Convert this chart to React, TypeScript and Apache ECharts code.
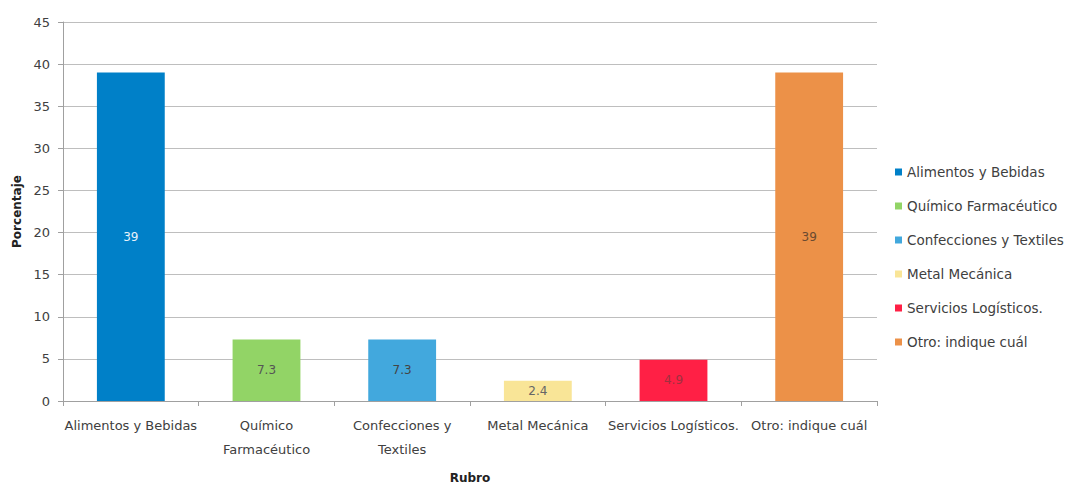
import React, { useEffect, useRef } from "react";
import * as echarts from "echarts";

const categories = [
  "Alimentos y Bebidas",
  "Químico Farmacéutico",
  "Confecciones y Textiles",
  "Metal Mecánica",
  "Servicios Logísticos.",
  "Otro: indique cuál",
];
const axisLabels = [
  "Alimentos y Bebidas",
  "Químico\nFarmacéutico",
  "Confecciones y\nTextiles",
  "Metal Mecánica",
  "Servicios Logísticos.",
  "Otro: indique cuál",
];
const values = [39, 7.3, 7.3, 2.4, 4.9, 39];
const colors = ["#0080C8", "#92D466", "#42A8DD", "#F9E597", "#FF2045", "#EC9148"];
const labelColors = ["#E8F2FA", "#555555", "#444444", "#666666", "#A03040", "#6A4A30"];

const FONT = "'DejaVu Sans', 'Open Sans', sans-serif";

export default function App() {
  const ref = useRef<HTMLDivElement>(null);
  useEffect(() => {
    if (!ref.current) return;
    const chart = echarts.init(ref.current, undefined, { renderer: "svg" });
    const series = categories.map((name, i) => ({
      name,
      type: "bar",
      stack: "total",
      barWidth: "50%",
      data: values.map((v, j) => (j === i ? v : null)),
      itemStyle: { color: colors[i] },
      label: {
        show: true,
        position: "inside",
        color: labelColors[i],
        fontSize: 12,
        fontFamily: FONT,
      },
    }));
    chart.setOption({
      animation: false,
      grid: { left: 63, top: 22, right: 192, bottom: 83, outerBoundsMode: "none", containLabel: false },
      legend: {
        orient: "vertical",
        left: 890,
        top: 160,
        itemWidth: 7,
        itemHeight: 7,
        itemGap: 20,
        icon: "rect",
        data: categories,
        textStyle: { fontSize: 13.5, color: "#404040", fontFamily: FONT },
      },
      xAxis: {
        type: "category",
        data: axisLabels,
        name: "Rubro",
        nameLocation: "middle",
        nameGap: 71,
        nameTextStyle: { fontWeight: "bold", fontSize: 12, color: "#222", fontFamily: FONT },
        axisLine: { lineStyle: { color: "#A0A0A0" } },
        axisTick: { show: true, alignWithLabel: false, length: 5, lineStyle: { color: "#A0A0A0" } },
        axisLabel: { color: "#404040", fontSize: 13, fontFamily: FONT, lineHeight: 24, margin: 12, interval: 0 },
      },
      yAxis: {
        type: "value",
        min: 0,
        max: 45,
        interval: 5,
        name: "Porcentaje",
        nameLocation: "middle",
        nameGap: 40,
        nameTextStyle: { fontWeight: "bold", fontSize: 12, color: "#222", fontFamily: FONT },
        axisLine: { show: true, lineStyle: { color: "#A0A0A0" } },
        axisTick: { show: true, length: 5, lineStyle: { color: "#A0A0A0" } },
        axisLabel: { color: "#404040", fontSize: 13, fontFamily: FONT, margin: 13 },
        splitLine: { lineStyle: { color: "#BEBEBE" } },
      },
      series,
    });
    return () => chart.dispose();
  }, []);
  return <div ref={ref} style={{ width: 1069, height: 484, position: "absolute", left: 0, top: 0 }} />;
}
